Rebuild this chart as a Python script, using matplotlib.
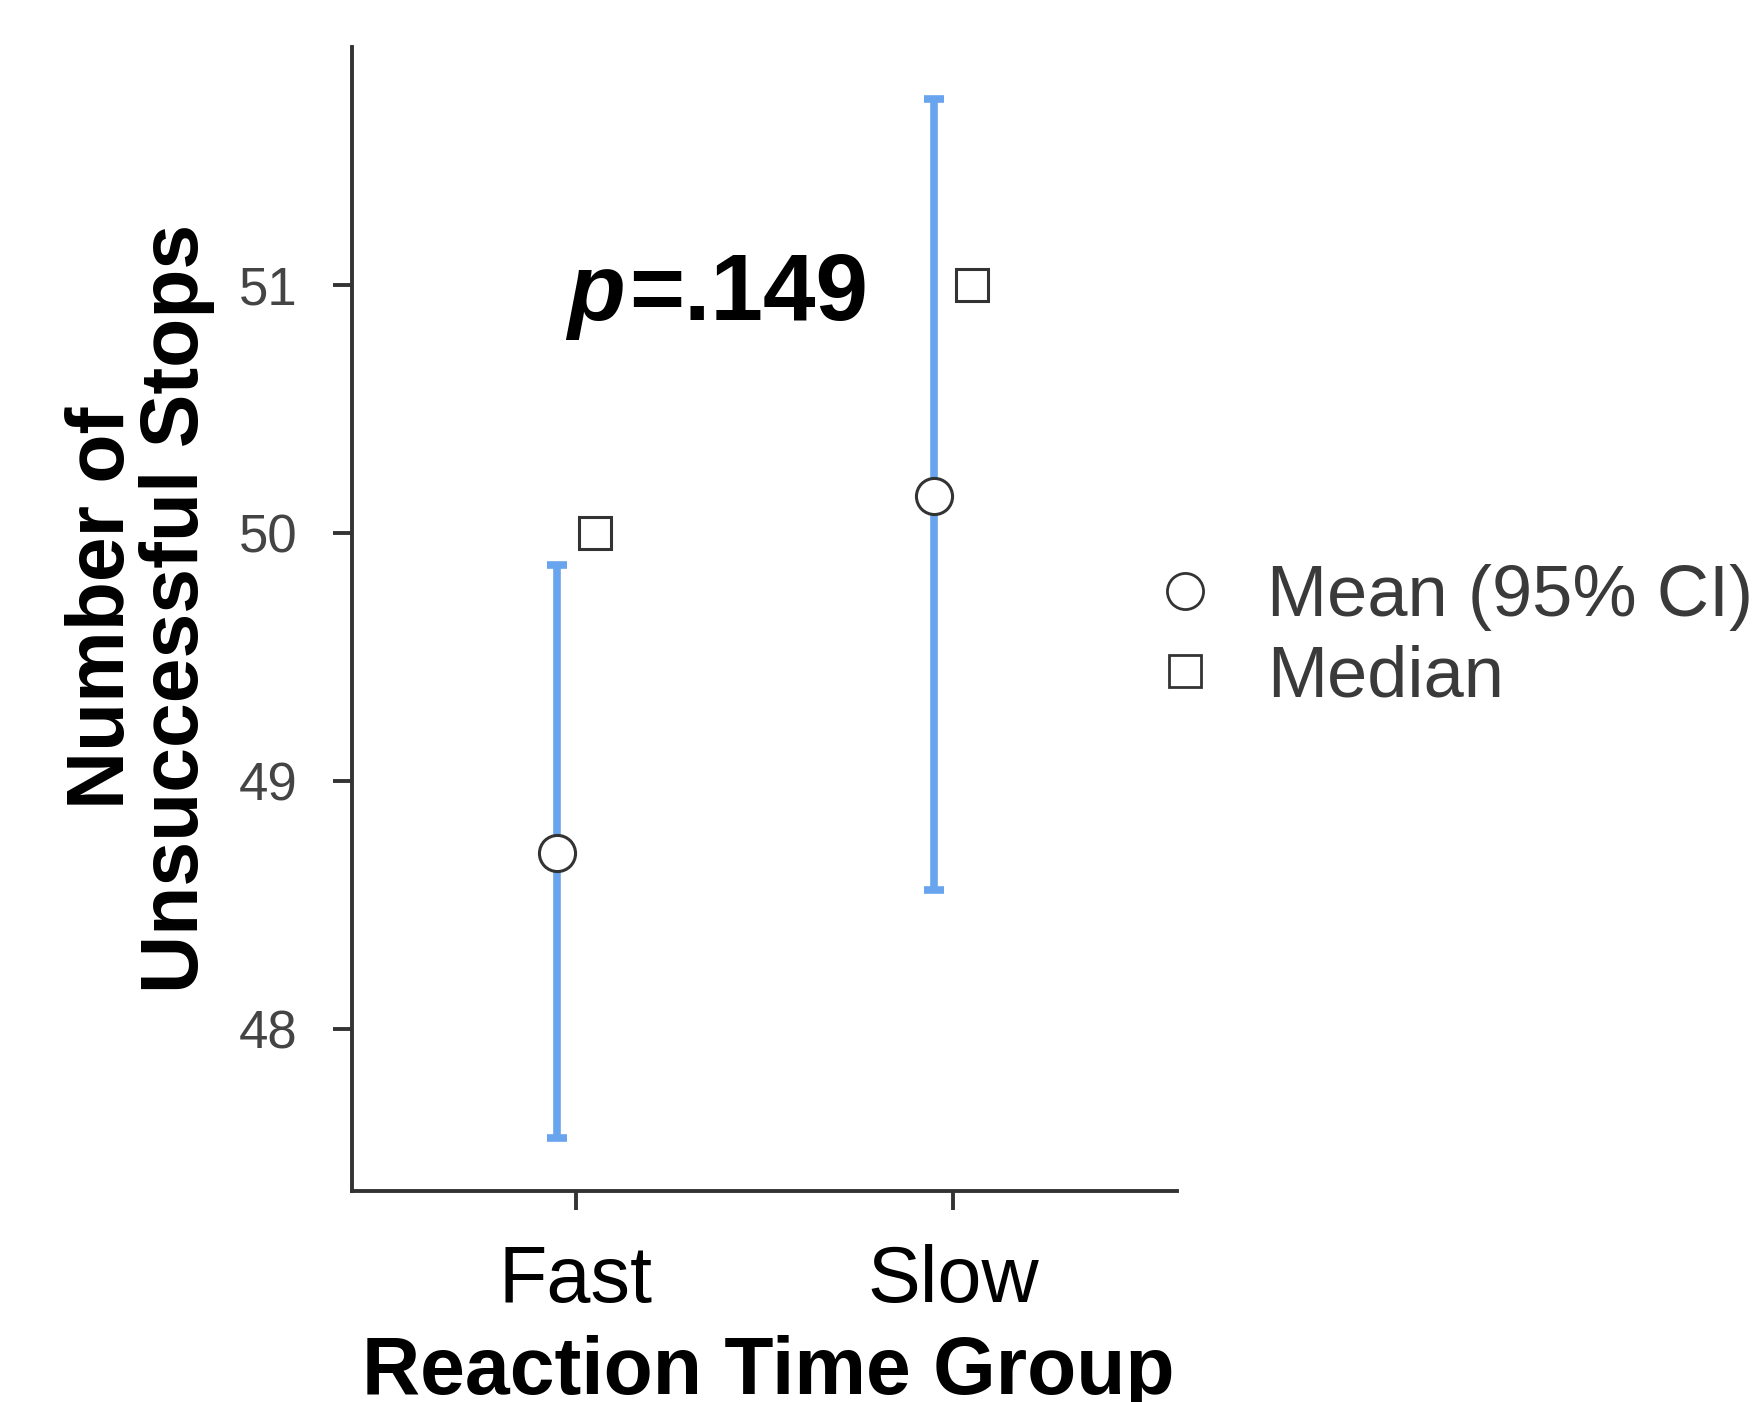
import matplotlib
matplotlib.use('Agg')
import matplotlib.pyplot as plt
from matplotlib.lines import Line2D

# values
groups = ['Fast', 'Slow']
means = [48.71, 50.15]
ci_low = [47.56, 48.56]
ci_high = [49.87, 51.75]
medians = [50.0, 51.0]
yticks = [48, 49, 50, 51]

W, H = 1762, 1402
fig = plt.figure(figsize=(W / 100, H / 100), dpi=100)
ax = fig.add_axes([351.7 / W, 1 - 1191 / H, (1176.5 - 351.7) / W, (1191 - 47) / H])

blue = '#69a5ef'
dark = '#333333'
sans = ['Liberation Sans', 'DejaVu Sans']

x = list(range(len(groups)))
x_mean = [i - 0.05 for i in x]
x_med = [i + 0.05 for i in x]
yerr = [[m - lo for m, lo in zip(means, ci_low)],
        [hi - m for m, hi in zip(means, ci_high)]]

ax.errorbar(x_mean, means, yerr=yerr, fmt='none', ecolor=blue,
            elinewidth=5.5, capsize=7, capthick=5.5, zorder=2)
ax.plot(x_mean, means, 'o', ms=26, mfc='white', mec=dark, mew=2.2, zorder=3)
ax.plot(x_med, medians, 's', ms=23, mfc='white', mec=dark, mew=2.2, zorder=3)

ax.set_xlim(-0.595, 1.593)
ax.set_ylim(47.348, 51.958)
ax.set_xticks(x)
ax.set_xticklabels(groups, family=sans, fontsize=57, color='black')
ax.set_yticks(yticks)
ax.set_yticklabels([str(t) for t in yticks], family=sans,
                   fontsize=38, color='#444444')
ax.tick_params(axis='y', length=14, width=2.8, color=dark, pad=25)
ax.tick_params(axis='x', length=14, width=2.8, color=dark, pad=24)
for s in ['top', 'right']:
    ax.spines[s].set_visible(False)
for s in ['left', 'bottom']:
    ax.spines[s].set_linewidth(2.8)
    ax.spines[s].set_color(dark)

# p value annotation
fig.text(567 / W, 1 - 320 / H, 'p', fontsize=68, fontweight='bold',
         style='italic', family=sans, ha='left', va='baseline')
fig.text(629 / W, 1 - 320 / H, '=.149', fontsize=68, fontweight='bold',
         family=sans, ha='left', va='baseline')

# axis titles
fig.text(140 / W, 1 - 608 / H, 'Number of\nUnsuccessful Stops', rotation=90,
         fontsize=58, fontweight='bold', family=sans, ha='center',
         va='center', linespacing=0.95)
fig.text(768 / W, 1 - 1394 / H, 'Reaction Time Group', fontsize=58,
         fontweight='bold', family=sans, ha='center', va='baseline')

handles = [
    Line2D([], [], ls='none', marker='o', ms=26, mfc='white', mec=dark, mew=2),
    Line2D([], [], ls='none', marker='s', ms=23, mfc='white', mec=dark, mew=2),
]
fig.legend(handles, ['Mean (95% CI)', 'Median'], loc='center left',
           bbox_to_anchor=(1149 / W, 1 - 638 / H), frameon=False,
           prop={'family': sans, 'size': 52},
           labelcolor='#3a3a3a', handlelength=1.0, handletextpad=0.64,
           labelspacing=0.18, borderpad=0, borderaxespad=0)

fig.savefig('out.png', dpi=100)
